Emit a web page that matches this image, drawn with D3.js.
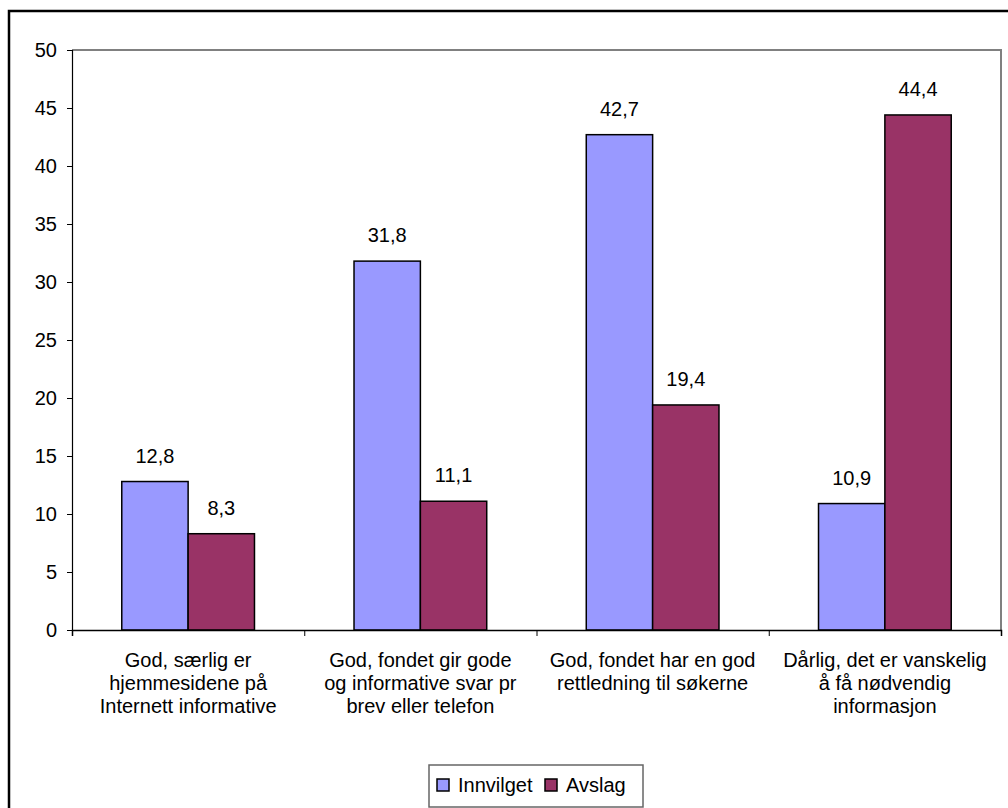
<!DOCTYPE html>
<html>
<head>
<meta charset="utf-8">
<script src="https://cdn.jsdelivr.net/npm/d3@7"></script>
<style>
  body { margin: 0; background: #fff; }
  svg { display: block; font-family: "Liberation Sans", Arial, sans-serif; }
</style>
</head>
<body>
<div class="chart"></div>
<script>
const categories = [
  ["God, særlig er", "hjemmesidene på", "Internett informative"],
  ["God, fondet gir gode", "og informative svar pr", "brev eller telefon"],
  ["God, fondet har en god", "rettledning til søkerne"],
  ["Dårlig, det er vanskelig", "å få nødvendig", "informasjon"]
];
const seriesNames = ["Innvilget", "Avslag"];
const innvilget = [12.8, 31.8, 42.7, 10.9];
const avslag = [8.3, 11.1, 19.4, 44.4];
const yTicks = [0, 5, 10, 15, 20, 25, 30, 35, 40, 45, 50];
const colors = ["#9999ff", "#993366"];

const width = 1008;
const height = 808;
const plot = { left: 72, right: 1001, top: 50, bottom: 630 };

const no = d3.formatLocale({ decimal: ",", thousands: " ", grouping: [3], currency: ["", " kr"] });
const fmt = no.format(".1f");

const svg = d3.select(".chart")
              .append("svg")
              .attr("width", width)
              .attr("height", height);

// outer frame (cut off at right and bottom)
svg.append("path")
   .attr("d", "M9," + height + " V11 H" + (width + 5))
   .attr("fill", "none")
   .attr("stroke", "#000")
   .attr("stroke-width", 2.5);

const x0 = d3.scaleBand()
             .domain(d3.range(categories.length))
             .range([plot.left, plot.right]);

// excel gap width 150%
const barW = x0.bandwidth() / 3.5;
const x1 = d3.scaleBand()
             .domain(seriesNames)
             .range([0, barW * 2]);

const y = d3.scaleLinear()
            .domain([0, 50])
            .range([plot.bottom, plot.top]);

// plot area border top/right
svg.append("path")
   .attr("d", "M" + plot.left + "," + plot.top + " H" + plot.right + " V" + plot.bottom)
   .attr("fill", "none")
   .attr("stroke", "#808080")
   .attr("stroke-width", 2);

const rows = [];
categories.forEach((c, i) => {
  rows.push({ cat: i, s: seriesNames[0], v: innvilget[i], color: colors[0] });
  rows.push({ cat: i, s: seriesNames[1], v: avslag[i], color: colors[1] });
});

const offset = (x0.bandwidth() - barW * 2) / 2;

svg.selectAll("rect.bar")
   .data(rows)
   .enter()
   .append("rect")
   .attr("class", "bar")
   .attr("x", d => x0(d.cat) + offset + x1(d.s))
   .attr("y", d => y(d.v))
   .attr("width", x1.bandwidth())
   .attr("height", d => y(0) - y(d.v))
   .attr("fill", d => d.color)
   .attr("stroke", "#000")
   .attr("stroke-width", 1.5);

svg.selectAll("text.val")
   .data(rows)
   .enter()
   .append("text")
   .attr("class", "val")
   .attr("x", d => x0(d.cat) + offset + x1(d.s) + x1.bandwidth() / 2)
   .attr("y", d => y(d.v) - 19)
   .attr("text-anchor", "middle")
   .attr("font-size", 20)
   .attr("fill", "#000")
   .text(d => fmt(d.v));

// y axis
const yAxis = d3.axisLeft(y)
                .tickValues(yTicks)
                .tickSize(5)
                .tickPadding(10)
                .tickFormat(d => d);

const gy = svg.append("g")
              .attr("transform", "translate(" + plot.left + ",0)")
              .call(yAxis);
gy.select(".domain").attr("stroke", "#000").attr("stroke-width", 1.2);
gy.selectAll(".tick line").attr("stroke", "#000");
gy.selectAll(".tick text")
  .attr("font-size", 20)
  .attr("font-family", "Liberation Sans, Arial, sans-serif")
  .attr("fill", "#000");

// x axis with ticks between categories
const xEdge = d3.scaleLinear()
                .domain([0, categories.length])
                .range([plot.left, plot.right]);
const xAxis = d3.axisBottom(xEdge)
                .ticks(categories.length)
                .tickSize(6)
                .tickFormat("");
const gx = svg.append("g")
              .attr("transform", "translate(0," + plot.bottom + ")")
              .call(xAxis);
gx.select(".domain").attr("stroke", "#000").attr("stroke-width", 1.5);
gx.selectAll(".tick line").attr("stroke", "#000");

const labels = svg.selectAll("text.cat")
                  .data(categories)
                  .enter()
                  .append("text")
                  .attr("class", "cat")
                  .attr("text-anchor", "middle")
                  .attr("font-size", 20)
                  .attr("fill", "#000");
labels.selectAll("tspan")
      .data((d, i) => d.map(line => ({ line, i })))
      .enter()
      .append("tspan")
      .attr("x", d => x0(d.i) + x0.bandwidth() / 2)
      .attr("y", (d, j) => 667 + j * 23)
      .text(d => d.line);

// legend
const legend = svg.append("g");
legend.append("rect")
      .attr("x", 429)
      .attr("y", 765)
      .attr("width", 214)
      .attr("height", 42)
      .attr("fill", "#fff")
      .attr("stroke", "#666")
      .attr("stroke-width", 1.5);

const legendX = [437, 545];
seriesNames.forEach((name, i) => {
  legend.append("rect")
        .attr("x", legendX[i])
        .attr("y", 779)
        .attr("width", 12)
        .attr("height", 12)
        .attr("fill", colors[i])
        .attr("stroke", "#000")
        .attr("stroke-width", 1.5);
  legend.append("text")
        .attr("x", legendX[i] + 21)
        .attr("y", 792)
        .attr("font-size", 20)
        .attr("fill", "#000")
        .text(name);
});
</script>
</body>
</html>
